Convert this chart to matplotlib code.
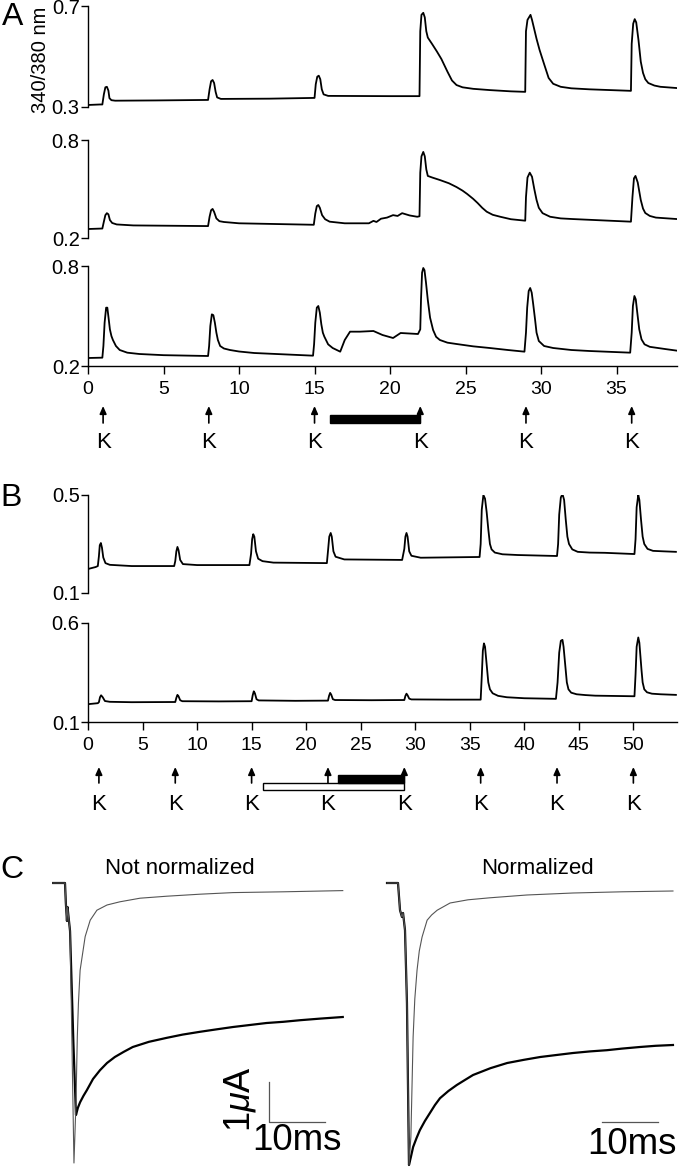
import matplotlib
matplotlib.use("Agg")
import matplotlib.pyplot as plt
from matplotlib.patches import Rectangle

plt.rcParams['font.family'] = ['Liberation Sans', 'DejaVu Sans']
plt.rcParams['mathtext.fontset'] = 'custom'
plt.rcParams['mathtext.rm'] = 'Liberation Sans'
plt.rcParams['mathtext.it'] = 'Liberation Sans:italic'

# ---- data ----
# panel A: 340/380 nm ratio vs time (min), three cells
a1_t = [0, 0.8, 0.95, 1.05, 1.15, 1.25, 1.35, 1.42, 1.55, 1.8, 4.5,
        7.95, 8.05, 8.15, 8.25, 8.35, 8.45, 8.55, 8.8, 12,
        15.0, 15.08, 15.18, 15.28, 15.38, 15.48, 15.6, 15.9, 20, 21.95,
        22.0, 22.08, 22.2, 22.3, 22.4, 22.5, 22.8, 23.1, 23.4, 23.8, 24.1, 24.4, 24.8, 25.5, 26.6, 28, 28.95,
        29.0, 29.1, 29.3, 29.4, 29.5, 29.7, 29.9, 30.2, 30.5, 30.8, 31.3, 32, 33.2, 35.95,
        36.0, 36.1, 36.2, 36.3, 36.45, 36.6, 36.75, 36.9, 37.1, 37.5, 37.9, 39]
a1_v = [0.308, 0.31, 0.31, 0.35, 0.378, 0.38, 0.365, 0.335, 0.327, 0.325, 0.326,
        0.328, 0.37, 0.402, 0.407, 0.395, 0.36, 0.338, 0.332, 0.333,
        0.336, 0.39, 0.42, 0.424, 0.41, 0.37, 0.35, 0.344, 0.343, 0.343,
        0.60, 0.665, 0.673, 0.655, 0.60, 0.575, 0.548, 0.52, 0.49, 0.44, 0.405, 0.387, 0.378, 0.372, 0.367, 0.362,
        0.36,
        0.60, 0.645, 0.665, 0.645, 0.62, 0.57, 0.526, 0.47, 0.415, 0.392, 0.38, 0.374, 0.37, 0.364,
        0.55, 0.63, 0.648, 0.635, 0.565, 0.48, 0.435, 0.41, 0.395, 0.385, 0.38, 0.375]

a2_t = [0, 0.95, 1.05, 1.15, 1.25, 1.35, 1.45, 1.6, 1.9, 3,
        7.95, 8.05, 8.15, 8.25, 8.35, 8.5, 8.7, 9.0, 10, 14.95,
        15.05, 15.15, 15.25, 15.35, 15.5, 15.7, 16.0, 17, 18.6,
        18.9, 19.1, 19.4, 19.8, 20.2, 20.5, 20.8, 21.3, 21.8, 21.95,
        22.0, 22.08, 22.2, 22.3, 22.4, 22.5, 22.8, 23.3, 23.9, 24.4, 24.8, 25.1, 25.5, 25.8, 26.1, 26.4, 26.8, 27.3,
        28, 28.95,
        29.0, 29.1, 29.25, 29.4, 29.55, 29.7, 29.85, 30.1, 30.6, 31.3, 32.1, 35.95,
        36.05, 36.15, 36.25, 36.4, 36.6, 36.75, 36.9, 37.2, 37.6, 39]
a2_v = [0.255, 0.258, 0.30, 0.34, 0.352, 0.345, 0.31, 0.292, 0.283, 0.277,
        0.273, 0.33, 0.37, 0.378, 0.36, 0.32, 0.303, 0.298, 0.29, 0.281,
        0.35, 0.395, 0.402, 0.385, 0.34, 0.315, 0.30, 0.29, 0.29,
        0.305, 0.298, 0.318, 0.325, 0.34, 0.335, 0.352, 0.338, 0.33, 0.333,
        0.60, 0.70, 0.727, 0.70, 0.62, 0.58, 0.57, 0.555, 0.535, 0.512, 0.49, 0.47, 0.44, 0.414, 0.385, 0.361, 0.342,
        0.33, 0.315, 0.306,
        0.45, 0.57, 0.60, 0.575, 0.50, 0.433, 0.385, 0.352, 0.33, 0.32, 0.316, 0.30,
        0.45, 0.565, 0.58, 0.54, 0.433, 0.38, 0.353, 0.335, 0.325, 0.316]

a3_t = [0, 0.95, 1.02, 1.1, 1.2, 1.28, 1.36, 1.45, 1.55, 1.65, 1.85, 2.1, 2.6, 3.4, 5, 7.95,
        8.02, 8.1, 8.2, 8.3, 8.4, 8.5, 8.6, 8.75, 9.0, 9.4, 10, 11, 14.9,
        14.97, 15.05, 15.15, 15.25, 15.35, 15.45, 15.55, 15.65, 15.9, 16.2, 16.7,
        17.0, 17.35, 18.0, 18.9, 19.5, 20.2, 20.7, 21.85,
        22.0, 22.05, 22.12, 22.2, 22.28, 22.38, 22.5, 22.65, 22.85, 23.05, 23.3, 23.8, 24.4, 25.5, 26.6, 27.8, 28.9,
        29.0, 29.08, 29.18, 29.28, 29.38, 29.48, 29.6, 29.7, 29.85, 30.2, 30.8, 32, 33.2, 35.9,
        36.0, 36.08, 36.18, 36.27, 36.37, 36.5, 36.65, 36.85, 37.2, 38.2, 39]
a3_v = [0.248, 0.25, 0.32, 0.46, 0.55, 0.55, 0.49, 0.42, 0.38, 0.356, 0.32, 0.296, 0.28, 0.272, 0.265, 0.26,
        0.32, 0.44, 0.51, 0.505, 0.46, 0.40, 0.356, 0.32, 0.305, 0.296, 0.287, 0.278, 0.262,
        0.33, 0.46, 0.55, 0.56, 0.52, 0.45, 0.40, 0.376, 0.33, 0.308, 0.286,
        0.356, 0.406, 0.406, 0.41, 0.386, 0.368, 0.398, 0.392,
        0.42, 0.60, 0.76, 0.788, 0.775, 0.70, 0.596, 0.49, 0.416, 0.375, 0.356, 0.34, 0.332, 0.318, 0.308, 0.296,
        0.286,
        0.40, 0.55, 0.65, 0.668, 0.64, 0.57, 0.48, 0.40, 0.35, 0.32, 0.308, 0.296, 0.29, 0.28,
        0.40, 0.56, 0.62, 0.60, 0.52, 0.42, 0.36, 0.33, 0.315, 0.302, 0.292]

a_ylims = [(0.3, 0.7), (0.2, 0.8), (0.2, 0.8)]
a_k_times = [1, 8, 15, 22, 29, 36]
a_bar = (16, 22)

# panel B
b1_t = [0, 0.7, 0.9, 1.0, 1.08, 1.18, 1.28, 1.4, 1.6, 2.0, 4.0, 7.9,
        8.0, 8.1, 8.2, 8.3, 8.45, 8.7, 10, 14.8,
        14.95, 15.05, 15.15, 15.25, 15.4, 15.6, 16, 17, 21.9,
        22.0, 22.12, 22.25, 22.35, 22.5, 22.7, 23.5, 28.8,
        29.0, 29.1, 29.2, 29.3, 29.45, 29.65, 30.5, 35.9,
        36.0, 36.1, 36.25, 36.4, 36.55, 36.7, 36.85, 37.0, 37.3, 38, 39.4, 43.0,
        43.1, 43.2, 43.35, 43.5, 43.65, 43.8, 43.95, 44.1, 44.4, 44.9, 46, 47.4, 50.1,
        50.2, 50.3, 50.45, 50.55, 50.7, 50.85, 51.0, 51.3, 51.8, 52.8, 53.9]
b1_v = [0.198, 0.206, 0.21, 0.25, 0.295, 0.304, 0.285, 0.245, 0.222, 0.215, 0.21, 0.21,
        0.23, 0.27, 0.288, 0.275, 0.235, 0.218, 0.214, 0.214,
        0.26, 0.32, 0.34, 0.33, 0.27, 0.24, 0.23, 0.224, 0.222,
        0.27, 0.33, 0.345, 0.33, 0.27, 0.248, 0.237, 0.235,
        0.28, 0.33, 0.345, 0.33, 0.27, 0.252, 0.244, 0.247,
        0.30, 0.44, 0.50, 0.485, 0.43, 0.36, 0.30, 0.278, 0.265, 0.258, 0.255, 0.251,
        0.30, 0.42, 0.49, 0.504, 0.48, 0.40, 0.33, 0.30, 0.278, 0.268, 0.265, 0.264, 0.259,
        0.32, 0.45, 0.50, 0.48, 0.40, 0.33, 0.30, 0.28, 0.272, 0.27, 0.268]

b2_t = [0, 0.9, 1.0, 1.1, 1.2, 1.35, 1.55, 2, 4, 8.0,
        8.1, 8.2, 8.3, 8.45, 8.65, 12, 15.0,
        15.1, 15.2, 15.3, 15.45, 15.65, 19, 22.0,
        22.1, 22.2, 22.3, 22.45, 22.65, 26, 29.0,
        29.1, 29.2, 29.3, 29.45, 29.65, 33, 36.0,
        36.1, 36.2, 36.3, 36.4, 36.5, 36.6, 36.7, 36.85, 37.1, 37.6, 38.4, 40, 42.9,
        43.05, 43.2, 43.35, 43.5, 43.6, 43.7, 43.8, 43.9, 44.05, 44.3, 44.8, 45.6, 46.5, 50.1,
        50.2, 50.3, 50.45, 50.55, 50.65, 50.75, 50.85, 51.0, 51.25, 51.7, 52.5, 53.9]
b2_v = [0.19, 0.195, 0.20, 0.225, 0.235, 0.225, 0.206, 0.202, 0.2, 0.201,
        0.222, 0.237, 0.23, 0.21, 0.205, 0.204, 0.205,
        0.235, 0.255, 0.245, 0.215, 0.209, 0.207, 0.208,
        0.232, 0.247, 0.238, 0.215, 0.211, 0.21, 0.211,
        0.232, 0.243, 0.235, 0.218, 0.214, 0.213, 0.213,
        0.33, 0.46, 0.497, 0.48, 0.42, 0.36, 0.30, 0.265, 0.245, 0.232, 0.225, 0.22, 0.217,
        0.30, 0.45, 0.51, 0.515, 0.48, 0.42, 0.36, 0.30, 0.265, 0.248, 0.24, 0.236, 0.233, 0.23,
        0.34, 0.48, 0.527, 0.50, 0.43, 0.36, 0.30, 0.265, 0.25, 0.243, 0.24, 0.237]

b_ylims = [(0.1, 0.5), (0.1, 0.6)]
b_k_times = [1, 8, 15, 22, 29, 36, 43, 50]
b_open_bar = (16, 29)
b_black_bar = (22.9, 29)

# panel C: currents (uA) vs time (ms)
c_raw_thin_t = [-2.1, 0, 0.15, 0.35, 0.45, 0.6, 0.9, 1.6, 1.96, 2.2, 2.4, 2.7, 3.6, 4.5, 5.7, 7.5, 9.8, 13.4,
                18.2, 24.1, 30, 39, 49.6]
c_raw_thin_i = [0, 0, -0.5, -0.95, -0.6, -0.8, -1.2, -7.0, -5.5, -3.84, -3.0, -2.18, -1.34, -0.93, -0.68, -0.55,
                -0.47, -0.38, -0.33, -0.28, -0.24, -0.22, -0.19]
c_raw_thick_t = [-2.1, 0, 0.15, 0.35, 0.45, 0.6, 0.9, 1.5, 1.96, 2.3, 2.7, 3.3, 3.9, 5.0, 6.25, 7.5, 8.9, 10.5,
                 12.1, 15, 18.2, 21, 24.1, 27, 30, 33, 36, 39, 42, 45.6, 49.6]
c_raw_thick_i = [0, 0, -0.5, -0.95, -0.6, -0.8, -1.2, -4.0, -5.8, -5.62, -5.48, -5.32, -5.18, -4.9, -4.68, -4.5,
                 -4.35, -4.22, -4.1, -3.97, -3.87, -3.79, -3.72, -3.66, -3.6, -3.55, -3.5, -3.47, -3.43, -3.39,
                 -3.35]
c_norm_thin_t = [-1.96, 0, 0.36, 0.71, 0.9, 1.25, 1.6, 1.96, 2.3, 2.7, 3.0, 3.4, 3.8, 4.3, 5.2, 6.0, 7.0, 9.3,
                 12.5, 16.4, 23, 31.25, 40, 49.1]
c_norm_thin_i = [0, 0, -0.68, -0.85, -0.75, -1.18, -3.0, -7.05, -6.35, -3.85, -2.9, -2.18, -1.7, -1.35, -0.93,
                 -0.8, -0.68, -0.5, -0.42, -0.37, -0.3, -0.25, -0.22, -0.2]
c_norm_thick_t = [-1.96, 0, 0.36, 0.71, 0.9, 1.25, 1.6, 1.96, 2.3, 2.7, 3.3, 3.9, 4.8, 5.7, 6.6, 7.5, 9, 10.5,
                  12, 13.4, 16.5, 19.5, 22.5, 25.4, 28.3, 31.25, 34.3, 37.3, 40, 43.2, 46, 49.1]
c_norm_thick_i = [0, 0, -0.68, -0.85, -0.75, -1.18, -3.0, -7.05, -6.85, -6.6, -6.38, -6.18, -5.95, -5.75, -5.55,
                  -5.38, -5.2, -5.05, -4.92, -4.8, -4.63, -4.5, -4.42, -4.35, -4.3, -4.25, -4.21, -4.18, -4.14,
                  -4.1, -4.07, -4.05]

W, H = 680, 1169
fig = plt.figure(figsize=(W / 100, H / 100), dpi=100)


def px_axes(x0, y0, x1, y1):
    return fig.add_axes([x0 / W, 1 - y1 / H, (x1 - x0) / W, (y1 - y0) / H])


def trace_ax(box, xmax, ylim, bottom):
    ax = px_axes(*box)
    ax.patch.set_alpha(0)
    ax.set_xlim(0, xmax)
    ax.set_ylim(*ylim)
    for s in ['top', 'right']:
        ax.spines[s].set_visible(False)
    ax.spines['bottom'].set_visible(bottom)
    ax.spines['left'].set_linewidth(1.0)
    ax.spines['bottom'].set_linewidth(1.0)
    ax.set_yticks(list(ylim))
    ax.set_yticklabels(['%g' % v for v in ylim])
    ax.tick_params(axis='y', length=5, width=1, pad=1, labelsize=14.5)
    if bottom:
        ax.set_xticks(list(range(0, int(xmax) + 1, 5)))
        ax.tick_params(axis='x', length=6, width=1, pad=5, labelsize=14)
    else:
        ax.set_xticks([])
    return ax


def k_marks(box, xmax, times, y_tip, y_base, y_k):
    ax = px_axes(*box)
    ax.set_xlim(0, xmax)
    ax.set_ylim(box[3], box[1])
    ax.axis('off')
    for t in times:
        ax.annotate('', xy=(t, y_tip), xytext=(t, y_base),
                    arrowprops=dict(arrowstyle='-|>,head_length=0.45,head_width=0.2',
                                    lw=1.2, color='k', shrinkA=0, shrinkB=0))
        ax.text(t, y_k, 'K', ha='center', va='center', fontsize=16)
    return ax


# ---- panel A ----
a_boxes = [(88, 6, 677, 107), (88, 140, 677, 238), (88, 266, 677, 366)]
for i, (t, v) in enumerate([(a1_t, a1_v), (a2_t, a2_v), (a3_t, a3_v)]):
    ax = trace_ax(a_boxes[i], 39, a_ylims[i], bottom=(i == 2))
    ax.plot(t, v, color='k', lw=1.3)

ax = k_marks((88, 395, 677, 460), 39, a_k_times, 406, 423, 442)
ax.add_patch(Rectangle((a_bar[0], 415), a_bar[1] - a_bar[0], 8, facecolor='k', edgecolor='k'))

fig.text(40 / W, 1 - 60 / H, '340/380 nm', rotation=90, ha='center', va='center', fontsize=14.5)

# ---- panel B ----
b_boxes = [(88, 495, 677, 593), (88, 623, 677, 722)]
for i, (t, v) in enumerate([(b1_t, b1_v), (b2_t, b2_v)]):
    ax = trace_ax(b_boxes[i], 54, b_ylims[i], bottom=(i == 1))
    ax.plot(t, v, color='k', lw=1.3)

ax = k_marks((88, 755, 677, 820), 54, b_k_times, 767, 783, 805)
ax.add_patch(Rectangle((b_open_bar[0], 783), b_open_bar[1] - b_open_bar[0], 7,
                       facecolor='white', edgecolor='k', lw=1.0, zorder=1))
ax.add_patch(Rectangle((b_black_bar[0], 775), b_black_bar[1] - b_black_bar[0], 8,
                       facecolor='k', edgecolor='k', zorder=1))

# ---- panel C ----
c_ylim = (-7.15, 0.2)
axl = px_axes(45, 875, 345, 1169)
axl.set_xlim(-3.571, 50.0)
axl.set_ylim(*c_ylim)
axl.axis('off')
axl.plot(c_raw_thick_t, c_raw_thick_i, color='k', lw=1.6)
axl.plot(c_raw_thin_t, c_raw_thin_i, color='#555555', lw=0.8)
axl.plot([36.4, 36.4, 46.4], [-4.975, -5.975, -5.975], color='#555555', lw=0.9)
axl.text(31.3, -5.4, r'1$\mu$A', rotation=90, ha='center', va='center', fontsize=26)
axl.text(41.4, -6.45, '10ms', ha='center', va='center', fontsize=26.5)

axr = px_axes(375, 875, 680, 1169)
axr.set_xlim(-4.107, 50.357)
axr.set_ylim(*c_ylim)
axr.axis('off')
axr.plot(c_norm_thick_t, c_norm_thick_i, color='k', lw=1.6)
axr.plot(c_norm_thin_t, c_norm_thin_i, color='#555555', lw=0.8)
axr.plot([36.4, 46.4], [-5.975, -5.975], color='#555555', lw=0.9)
axr.text(41.8, -6.55, '10ms', ha='center', va='center', fontsize=26.5)

fig.text(180 / W, 1 - 869 / H, 'Not normalized', ha='center', va='center', fontsize=16)
fig.text(537 / W, 1 - 868 / H, 'Normalized', ha='center', va='center', fontsize=16)

# panel letters
fig.text(12.5 / W, 1 - 17 / H, 'A', ha='center', va='center', fontsize=23)
fig.text(11 / W, 1 - 498 / H, 'B', ha='center', va='center', fontsize=23)
fig.text(12 / W, 1 - 870 / H, 'C', ha='center', va='center', fontsize=23)

fig.savefig('out.png', dpi=100)
